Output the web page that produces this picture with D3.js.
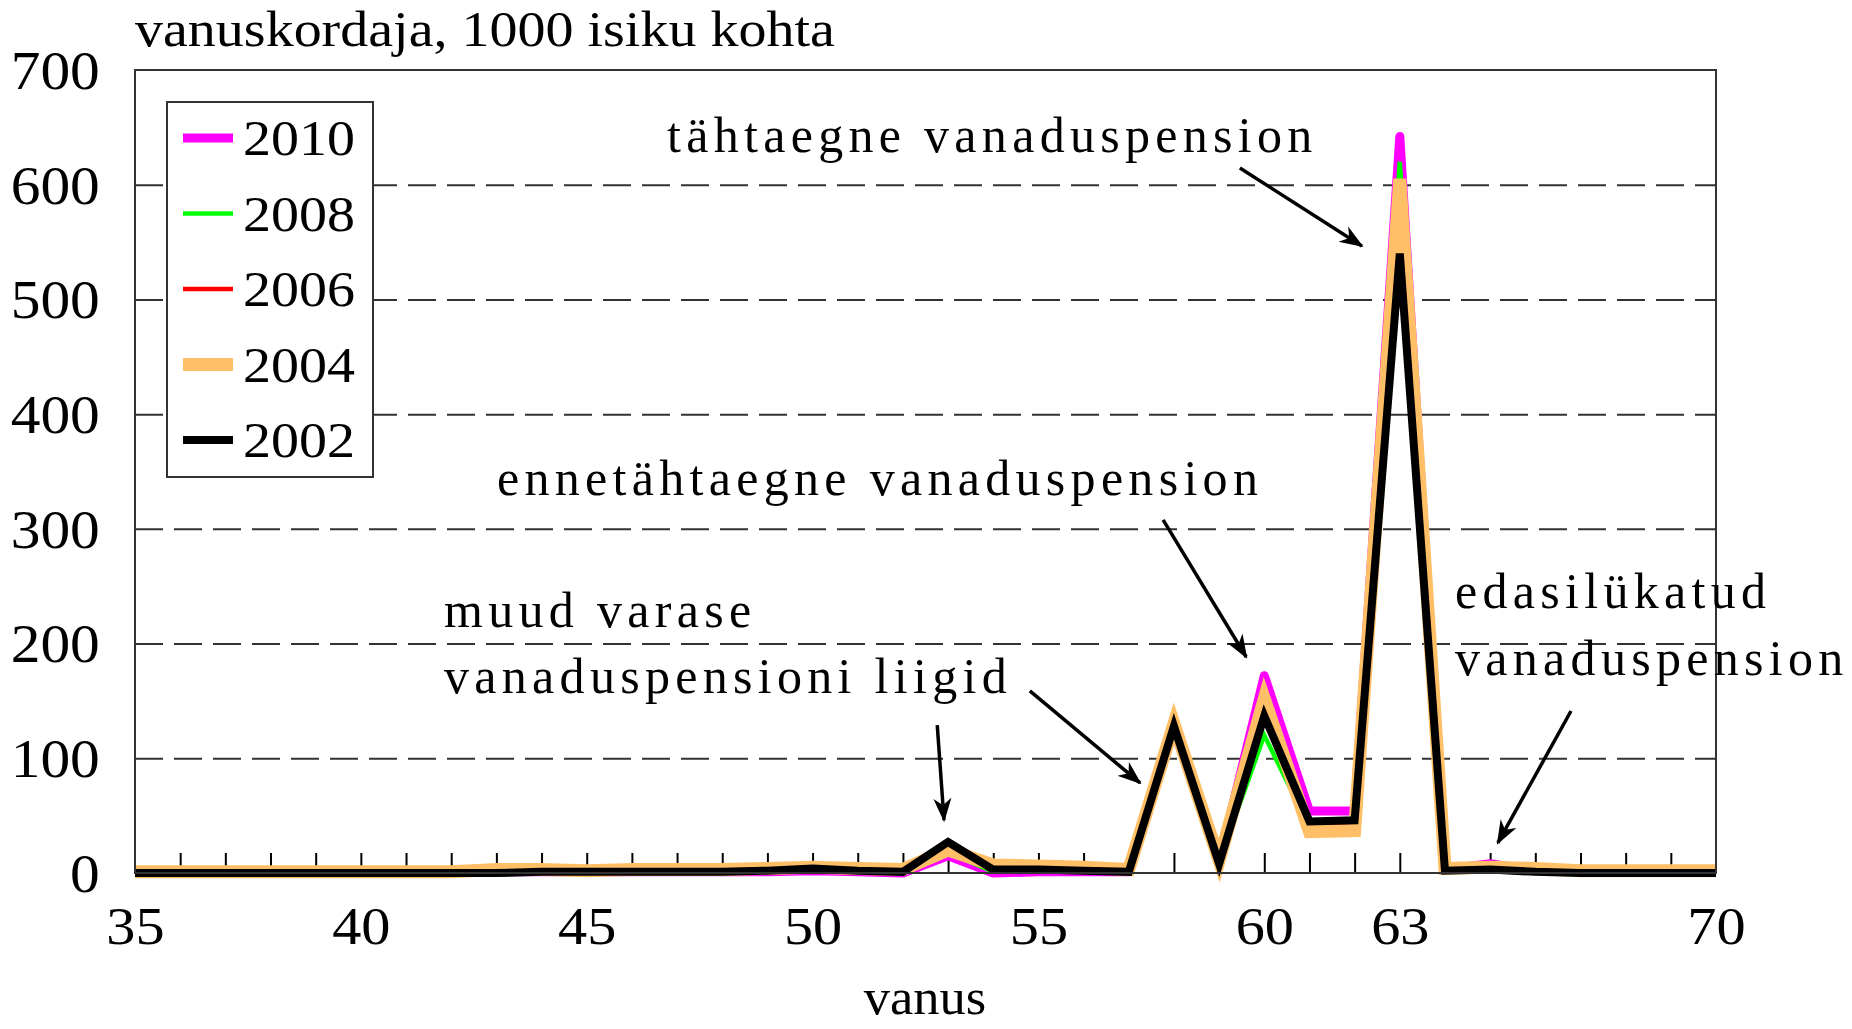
<!DOCTYPE html>
<html>
<head>
<meta charset="utf-8">
<script src="https://cdn.jsdelivr.net/npm/d3@7"></script>
<style>
  body { margin: 0; background: #fff; }
  svg text { font-family: "Liberation Serif", "Times New Roman", serif; fill: #000; }
</style>
</head>
<body>
<svg id="chart" width="1852" height="1029"></svg>
<script>
// ages on the x axis
const ages = [35,36,37,38,39,40,41,42,43,44,45,46,47,48,49,50,51,52,53,54,55,56,57,58,59,60,61,62,63,64,65,66,67,68,69,70];

// vanuskordaja per 1000 persons, one array per year
const v2010 = [1,1,1,1,1,1,1,1,1,1,1,1,1,1,1,2,1,0,15,0,1,1,1,125,10,172,54,54,642,3,8,2,1,1,1,1];
const v2008 = [1,1,1,1,1,1,1,1,1,1,1,1,1,1,1,2,1,1,18,1,1,1,1,127,10,120,40,42,620,2,4,2,1,1,1,1];
const v2006 = [1,1,1,1,1,1,1,1,1,1,1,1,1,1,2,3,2,1,22,2,2,1,1,128,10,145,40,42,600,2,4,2,1,1,1,1];
const v2004 = [1,1,1,1,1,1,1,1,3,3,2,3,3,3,4,5,4,3,20,7,6,5,3,130,11,152,36,37,605,4,5,4,2,2,2,2];
const v2002 = [0,0,0,0,0,0,0,0,0,1,1,1,1,1,2,4,2,1,27,3,3,2,1,128,8,137,45,46,540,2,3,1,0,0,0,0];

const seriesNames = ["2010", "2008", "2006", "2004", "2002"];
const seriesValues = [v2010, v2008, v2006, v2004, v2002];

const xLabelTicks = [35, 40, 45, 50, 55, 60, 63, 70];
const yTicks = [0, 100, 200, 300, 400, 500, 600, 700];
const gridTicks = [100, 200, 300, 400, 500, 600];

// line look for each year
const colors = { "2010": "#ff00ff", "2008": "#00ff00", "2006": "#ff0000", "2004": "#ffbf66", "2002": "#000000" };
const widths = { "2010": 9, "2008": 4.5, "2006": 4.5, "2004": 13, "2002": 8 };

const margin = { left: 135, right: 1716, top: 70, bottom: 873 };

const svg = d3.select("#chart");

const x = d3.scaleLinear().domain([35, 70]).range([margin.left, margin.right]);
const y = d3.scaleLinear().domain([0, 700]).range([margin.bottom, margin.top]);

// text helper, stretched a bit sideways like the source
function addText(str, px, py, size, anchor, sx, spacing) {
    const t = svg.append("text")
        .attr("transform", `translate(${px},${py}) scale(${sx || 1},1)`)
        .attr("font-size", size)
        .attr("text-anchor", anchor || "start")
        .text(str);
    if (spacing) t.attr("letter-spacing", spacing);
    return t;
}

// dashed grid lines
svg.append("g")
    .attr("transform", `translate(${margin.left},0)`)
    .call(d3.axisLeft(y).tickValues(gridTicks).tickSize(-(margin.right - margin.left)).tickFormat(""))
    .call(g => g.select(".domain").remove())
    .call(g => g.selectAll(".tick line")
        .attr("stroke", "#333")
        .attr("stroke-width", 2)
        .attr("stroke-dasharray", "28,11"));

// small ticks on the x axis, every year
svg.append("g")
    .attr("transform", `translate(0,${margin.bottom})`)
    .call(d3.axisBottom(x).tickValues(ages.slice(1, -1)).tickSizeInner(-20).tickSizeOuter(0).tickFormat(""))
    .call(g => g.select(".domain").remove())
    .call(g => g.selectAll(".tick line").attr("stroke", "#000").attr("stroke-width", 2));

// x tick labels
svg.append("g")
    .attr("transform", `translate(0,${margin.bottom})`)
    .call(d3.axisBottom(x).tickValues(xLabelTicks).tickSize(0).tickPadding(71).tickFormat(d3.format("d")))
    .call(g => g.select(".domain").remove())
    .call(g => g.selectAll(".tick text")
        .attr("font-family", "Liberation Serif")
        .attr("font-size", 53)
        .attr("fill", "#000")
        .attr("transform", "scale(1.1,1)")
        .attr("dy", 0));

// y tick labels
svg.append("g")
    .attr("transform", `translate(${margin.left},0)`)
    .call(d3.axisLeft(y).tickValues(yTicks).tickSize(0).tickPadding(32).tickFormat(d3.format("d")))
    .call(g => g.select(".domain").remove())
    .call(g => g.selectAll(".tick text")
        .attr("font-family", "Liberation Serif")
        .attr("font-size", 54)
        .attr("fill", "#000")
        .attr("transform", "scale(1.1,1)")
        .attr("dy", "0.34em"));

// the lines, 2010 at the bottom, 2002 on top
const line = d3.line()
    .x((d, i) => x(ages[i]))
    .y(d => y(d));

svg.append("g")
    .selectAll("path")
    .data(seriesNames)
    .enter().append("path")
    .attr("fill", "none")
    .attr("stroke", (d) => colors[d])
    .attr("stroke-width", (d) => widths[d])
    .attr("stroke-linejoin", (d) => d === "2010" ? "round" : "miter")
    .attr("d", (d, i) => line(seriesValues[i]));

// plot frame
svg.append("rect")
    .attr("x", margin.left)
    .attr("y", margin.top)
    .attr("width", margin.right - margin.left)
    .attr("height", margin.bottom - margin.top)
    .attr("fill", "none")
    .attr("stroke", "#333")
    .attr("stroke-width", 2);

// legend
const legend = svg.append("g");
legend.append("rect")
    .attr("x", 167).attr("y", 102)
    .attr("width", 206).attr("height", 375)
    .attr("fill", "#fff")
    .attr("stroke", "#333")
    .attr("stroke-width", 2);

seriesNames.forEach((name, i) => {
    const ly = 138 + i * 75.5;
    legend.append("line")
        .attr("x1", 183).attr("x2", 233)
        .attr("y1", ly).attr("y2", ly)
        .attr("stroke", colors[name])
        .attr("stroke-width", widths[name]);
    addText(name, 243, ly + 17, 50, "start", 1.12);
});

// titles
addText("vanuskordaja, 1000 isiku kohta", 135, 46, 50, "start", 1.12);
addText("vanus", 925, 1014, 50, "middle", 1.05);

// annotations
addText("tähtaegne vanaduspension", 667, 152, 50, "start", 1.0, 5.3);
addText("ennetähtaegne vanaduspension", 497, 495, 50, "start", 1.0, 5.3);
addText("muud varase", 444, 627, 50, "start", 1.0, 5.3);
addText("vanaduspensioni liigid", 444, 693, 50, "start", 1.0, 5.3);
addText("edasilükatud", 1455, 608, 50, "start", 1.0, 5.3);
addText("vanaduspension", 1455, 675, 50, "start", 1.0, 5.3);

// arrows, given in chart units
const arrows = [
    [59.46, 614.6, 62.16, 546.6],
    [57.76, 307.8, 59.60, 188.3],
    [52.76, 129.0, 52.91, 46.0],
    [54.81, 158.7, 57.25, 78.5],
    [66.79, 141.2, 65.17, 26.2]
];

svg.append("defs").append("marker")
    .attr("id", "head")
    .attr("markerUnits", "userSpaceOnUse")
    .attr("viewBox", "0 0 24 20")
    .attr("markerWidth", 24)
    .attr("markerHeight", 20)
    .attr("refX", 22)
    .attr("refY", 10)
    .attr("orient", "auto")
    .append("path")
    .attr("d", "M0,1 L24,10 L0,19 L7,10 Z")
    .attr("fill", "#000");

svg.append("g")
    .selectAll("line")
    .data(arrows)
    .enter().append("line")
    .attr("x1", d => x(d[0]))
    .attr("y1", d => y(d[1]))
    .attr("x2", d => x(d[2]))
    .attr("y2", d => y(d[3]))
    .attr("stroke", "#000")
    .attr("stroke-width", 3.5)
    .attr("marker-end", "url(#head)");
</script>
</body>
</html>
